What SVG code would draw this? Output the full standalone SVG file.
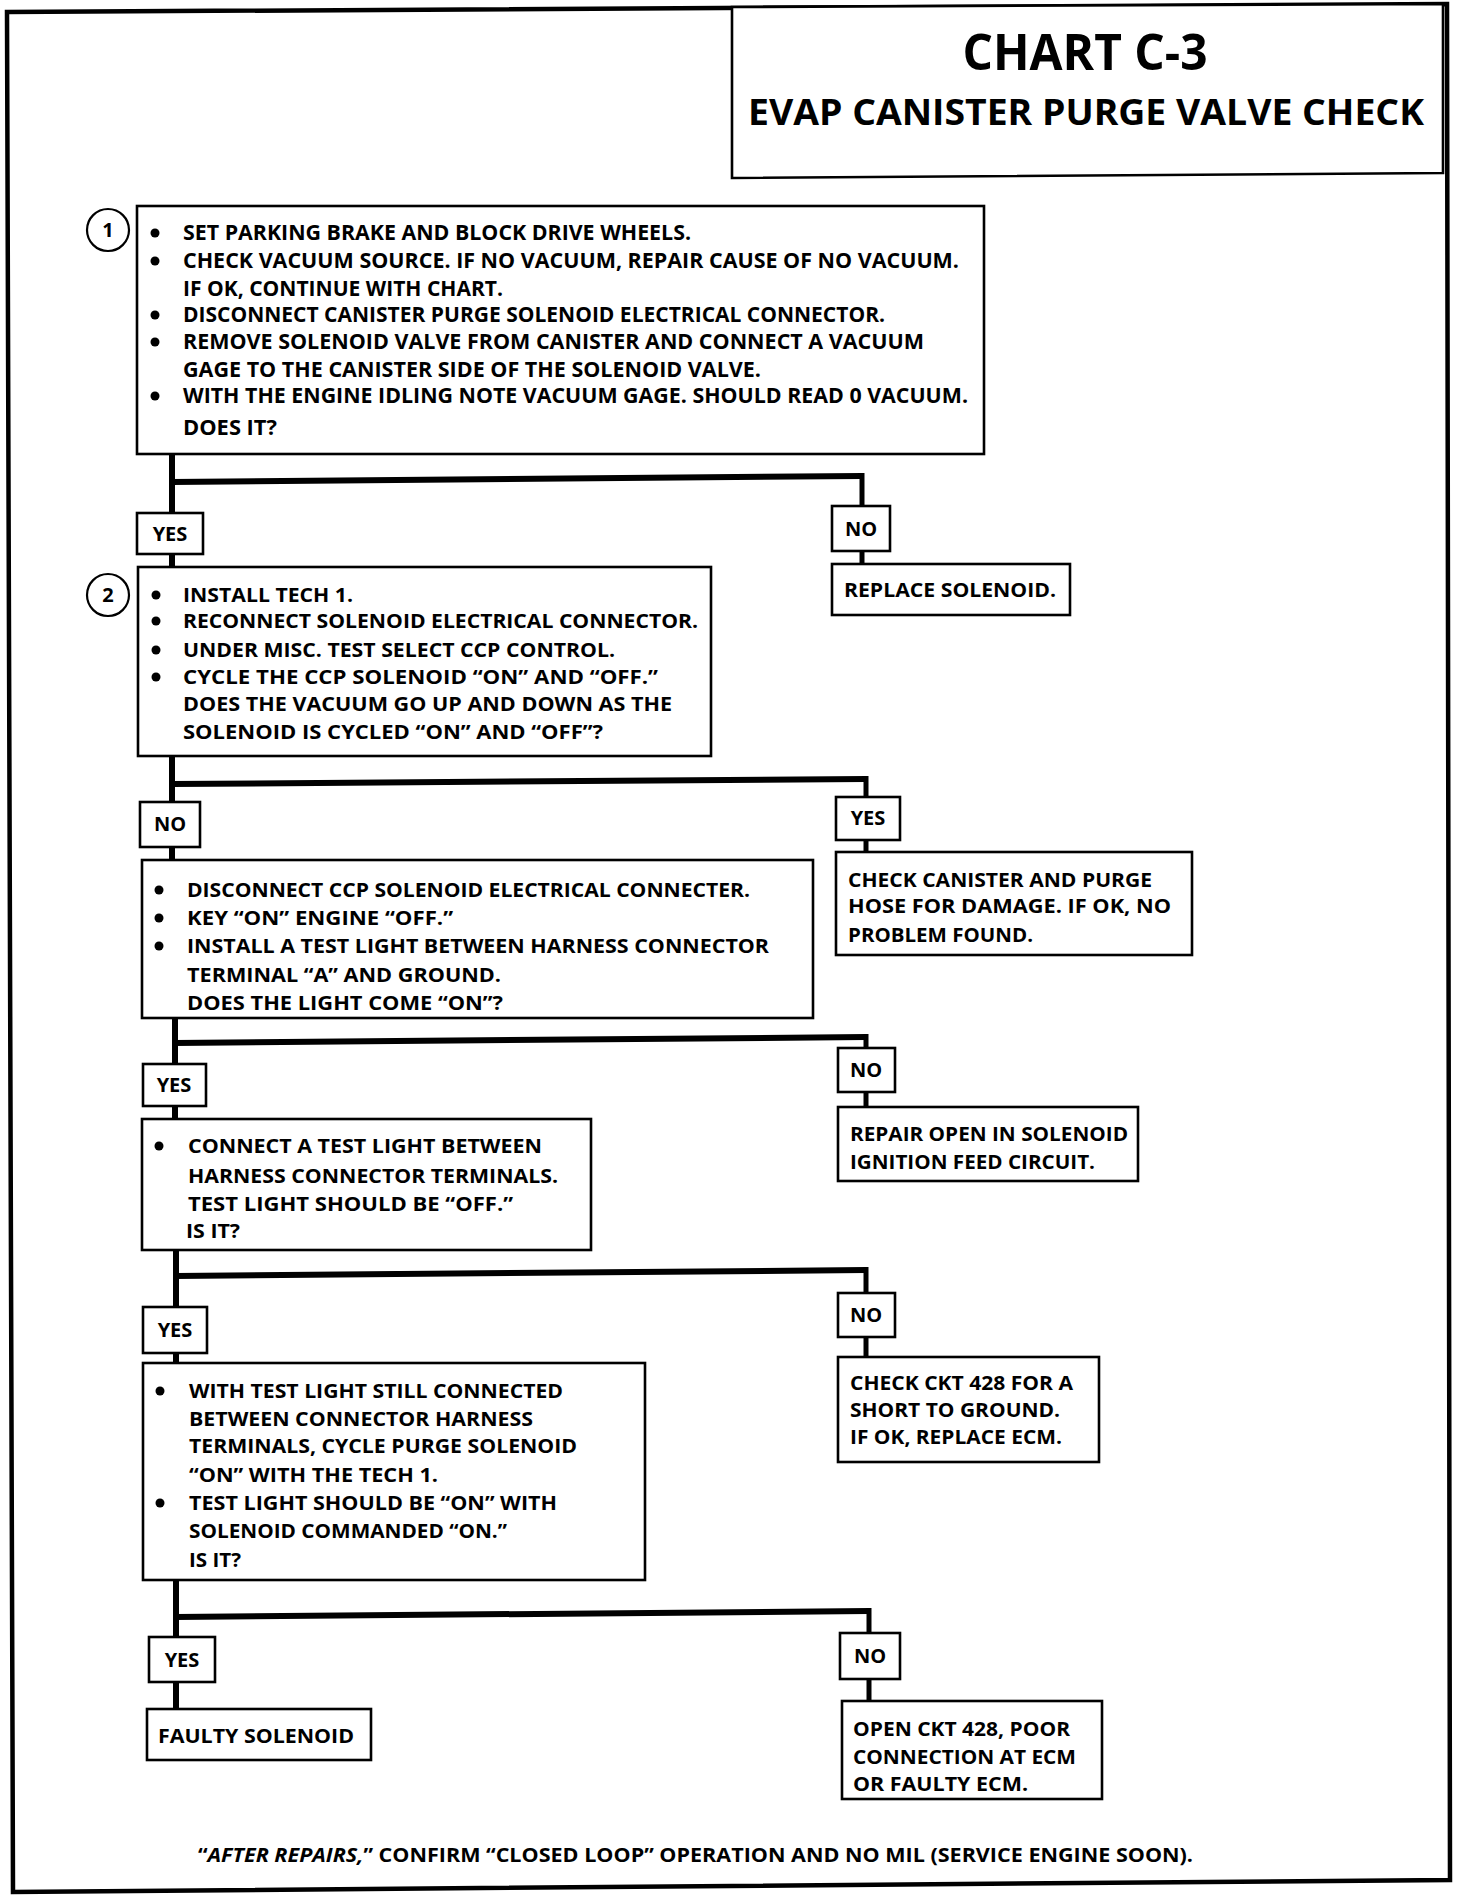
<svg xmlns="http://www.w3.org/2000/svg" width="1472" height="1898" viewBox="0 0 1472 1898">
<style>
.bg{fill:#fff}
.frame{fill:none;stroke:#000;stroke-width:4.5}
.box{fill:#fff;stroke:#000;stroke-width:2.6}
.t{font-family:"Open Sans","Liberation Sans",sans-serif;font-weight:700;font-size:20px;fill:#000}
.t1{font-size:21px}
.lbl{text-anchor:middle}
.title{font-family:"Open Sans","Liberation Sans",sans-serif;font-weight:700;fill:#000;text-anchor:middle}
.bul{fill:#000}
.circ{fill:#fff;stroke:#000;stroke-width:2.2}
.conn{fill:none;stroke:#000;stroke-width:6;stroke-linejoin:miter}
.connr{fill:none;stroke:#000;stroke-width:5}
</style>
<rect class="bg" x="0" y="0" width="1472" height="1898"/>
<polygon class="frame" points="7,12 1447,4 1450,1880 13,1892"/>

<g id="title">
<polygon class="box" points="732,7 1443,4 1443,173 732,178"/>
<text class="title" x="1085" y="70" font-size="50" textLength="245" lengthAdjust="spacingAndGlyphs">CHART C-3</text>
<text class="title" x="1086" y="125" font-size="36" textLength="676" lengthAdjust="spacingAndGlyphs">EVAP CANISTER PURGE VALVE CHECK</text>
</g>

<g id="connectors">
<path class="conn" d="M172,454 V513"/>
<path class="conn" d="M172,482 L862,476"/>
<path class="connr" d="M862,473 V506"/>
<path class="conn" d="M172,554 V567"/>
<path class="connr" d="M862,551 V564"/>

<path class="conn" d="M172,756 V802"/>
<path class="conn" d="M172,784 L866,779"/>
<path class="connr" d="M866,776 V797"/>
<path class="conn" d="M172,847 V860"/>
<path class="connr" d="M866,840 V852"/>

<path class="conn" d="M175,1018 V1064"/>
<path class="conn" d="M175,1043 L866,1037"/>
<path class="connr" d="M866,1034 V1048"/>
<path class="conn" d="M175,1106 V1119"/>
<path class="connr" d="M866,1092 V1107"/>

<path class="conn" d="M176,1250 V1307"/>
<path class="conn" d="M176,1276 L866,1270"/>
<path class="connr" d="M866,1267 V1293"/>
<path class="conn" d="M176,1353 V1363"/>
<path class="connr" d="M866,1337 V1357"/>

<path class="conn" d="M176,1580 V1637"/>
<path class="conn" d="M176,1617 L869,1611"/>
<path class="connr" d="M869,1608 V1633"/>
<path class="conn" d="M176,1682 V1709"/>
<path class="connr" d="M869,1679 V1701"/>
</g>

<g id="step1">
<circle class="circ" cx="108" cy="230" r="21"/>
<text class="t lbl" x="108" y="237">1</text>
<rect class="box" x="137" y="206" width="847" height="248"/>
<circle class="bul" cx="155" cy="233" r="4.5"/>
<circle class="bul" cx="155" cy="261" r="4.5"/>
<circle class="bul" cx="155" cy="315" r="4.5"/>
<circle class="bul" cx="155" cy="342" r="4.5"/>
<circle class="bul" cx="155" cy="396" r="4.5"/>
<text class="t t1" x="183" y="240" textLength="508" lengthAdjust="spacingAndGlyphs">SET PARKING BRAKE AND BLOCK DRIVE WHEELS.</text>
<text class="t t1" x="183" y="268" textLength="776" lengthAdjust="spacingAndGlyphs">CHECK VACUUM SOURCE.  IF NO VACUUM, REPAIR CAUSE OF NO VACUUM.</text>
<text class="t t1" x="183" y="296" textLength="320" lengthAdjust="spacingAndGlyphs">IF OK, CONTINUE WITH CHART.</text>
<text class="t t1" x="183" y="322" textLength="702" lengthAdjust="spacingAndGlyphs">DISCONNECT CANISTER PURGE SOLENOID ELECTRICAL CONNECTOR.</text>
<text class="t t1" x="183" y="349" textLength="741" lengthAdjust="spacingAndGlyphs">REMOVE SOLENOID VALVE FROM CANISTER  AND CONNECT A VACUUM</text>
<text class="t t1" x="183" y="377" textLength="578" lengthAdjust="spacingAndGlyphs">GAGE TO THE CANISTER SIDE OF THE SOLENOID VALVE.</text>
<text class="t t1" x="183" y="403" textLength="785" lengthAdjust="spacingAndGlyphs">WITH THE ENGINE IDLING NOTE VACUUM GAGE.  SHOULD READ 0 VACUUM.</text>
<text class="t t1" x="183" y="435" textLength="94" lengthAdjust="spacingAndGlyphs">DOES IT?</text>
</g>

<g id="yes1">
<rect class="box" x="137" y="513" width="66" height="41"/>
<text class="t lbl" x="170" y="541">YES</text>
</g>
<g id="no1">
<rect class="box" x="832" y="506" width="58" height="45"/>
<text class="t lbl" x="861" y="536">NO</text>
</g>
<g id="replace-solenoid">
<rect class="box" x="832" y="564" width="238" height="51"/>
<text class="t" x="844" y="597" textLength="212" lengthAdjust="spacingAndGlyphs">REPLACE SOLENOID.</text>
</g>

<g id="step2">
<circle class="circ" cx="108" cy="595" r="21"/>
<text class="t lbl" x="108" y="602">2</text>
<rect class="box" x="138" y="567" width="573" height="189"/>
<circle class="bul" cx="156" cy="595" r="4.5"/>
<circle class="bul" cx="156" cy="621" r="4.5"/>
<circle class="bul" cx="156" cy="650" r="4.5"/>
<circle class="bul" cx="156" cy="677" r="4.5"/>
<text class="t" x="183" y="602" textLength="170" lengthAdjust="spacingAndGlyphs">INSTALL TECH 1.</text>
<text class="t" x="183" y="628" textLength="515" lengthAdjust="spacingAndGlyphs">RECONNECT SOLENOID ELECTRICAL CONNECTOR.</text>
<text class="t" x="183" y="657" textLength="432" lengthAdjust="spacingAndGlyphs">UNDER MISC. TEST SELECT CCP CONTROL.</text>
<text class="t" x="183" y="684" textLength="475" lengthAdjust="spacingAndGlyphs">CYCLE THE CCP SOLENOID “ON” AND “OFF.”</text>
<text class="t" x="183" y="711" textLength="489" lengthAdjust="spacingAndGlyphs">DOES THE VACUUM GO UP AND DOWN AS THE</text>
<text class="t" x="183" y="739" textLength="420" lengthAdjust="spacingAndGlyphs">SOLENOID IS CYCLED “ON” AND “OFF”?</text>
</g>

<g id="no2">
<rect class="box" x="140" y="802" width="60" height="45"/>
<text class="t lbl" x="170" y="831">NO</text>
</g>
<g id="yes2">
<rect class="box" x="836" y="797" width="64" height="43"/>
<text class="t lbl" x="868" y="825">YES</text>
</g>
<g id="check-canister">
<rect class="box" x="836" y="852" width="356" height="103"/>
<text class="t" x="848" y="887" textLength="304" lengthAdjust="spacingAndGlyphs">CHECK CANISTER AND PURGE</text>
<text class="t" x="848" y="913" textLength="323" lengthAdjust="spacingAndGlyphs">HOSE FOR DAMAGE.  IF OK, NO</text>
<text class="t" x="848" y="942" textLength="185" lengthAdjust="spacingAndGlyphs">PROBLEM FOUND.</text>
</g>

<g id="step3">
<rect class="box" x="142" y="860" width="671" height="158"/>
<circle class="bul" cx="159" cy="890" r="4.5"/>
<circle class="bul" cx="159" cy="918" r="4.5"/>
<circle class="bul" cx="159" cy="946" r="4.5"/>
<text class="t" x="187" y="897" textLength="563" lengthAdjust="spacingAndGlyphs">DISCONNECT CCP SOLENOID ELECTRICAL CONNECTER.</text>
<text class="t" x="187" y="925" textLength="266" lengthAdjust="spacingAndGlyphs">KEY “ON” ENGINE “OFF.”</text>
<text class="t" x="187" y="953" textLength="582" lengthAdjust="spacingAndGlyphs">INSTALL A TEST LIGHT BETWEEN HARNESS CONNECTOR</text>
<text class="t" x="187" y="982" textLength="314" lengthAdjust="spacingAndGlyphs">TERMINAL “A” AND GROUND.</text>
<text class="t" x="187" y="1010" textLength="316" lengthAdjust="spacingAndGlyphs">DOES THE LIGHT COME “ON”?</text>
</g>

<g id="yes3">
<rect class="box" x="143" y="1064" width="63" height="42"/>
<text class="t lbl" x="174" y="1092">YES</text>
</g>
<g id="no3">
<rect class="box" x="838" y="1048" width="57" height="44"/>
<text class="t lbl" x="866" y="1077">NO</text>
</g>
<g id="repair-open">
<rect class="box" x="838" y="1107" width="300" height="74"/>
<text class="t" x="850" y="1141" textLength="278" lengthAdjust="spacingAndGlyphs">REPAIR OPEN IN SOLENOID</text>
<text class="t" x="850" y="1169" textLength="245" lengthAdjust="spacingAndGlyphs">IGNITION FEED CIRCUIT.</text>
</g>

<g id="step4">
<rect class="box" x="142" y="1119" width="449" height="131"/>
<circle class="bul" cx="159" cy="1146" r="4.5"/>
<text class="t" x="188" y="1153" textLength="354" lengthAdjust="spacingAndGlyphs">CONNECT A TEST LIGHT BETWEEN</text>
<text class="t" x="188" y="1183" textLength="370" lengthAdjust="spacingAndGlyphs">HARNESS CONNECTOR TERMINALS.</text>
<text class="t" x="188" y="1211" textLength="325" lengthAdjust="spacingAndGlyphs">TEST LIGHT SHOULD BE “OFF.”</text>
<text class="t" x="186" y="1238" textLength="54" lengthAdjust="spacingAndGlyphs">IS IT?</text>
</g>

<g id="yes4">
<rect class="box" x="143" y="1307" width="64" height="46"/>
<text class="t lbl" x="175" y="1337">YES</text>
</g>
<g id="no4">
<rect class="box" x="838" y="1293" width="57" height="44"/>
<text class="t lbl" x="866" y="1322">NO</text>
</g>
<g id="check-ckt-428">
<rect class="box" x="838" y="1357" width="261" height="105"/>
<text class="t" x="850" y="1390" textLength="223" lengthAdjust="spacingAndGlyphs">CHECK CKT 428 FOR A</text>
<text class="t" x="850" y="1417" textLength="210" lengthAdjust="spacingAndGlyphs">SHORT TO GROUND.</text>
<text class="t" x="850" y="1444" textLength="212" lengthAdjust="spacingAndGlyphs">IF OK, REPLACE ECM.</text>
</g>

<g id="step5">
<rect class="box" x="143" y="1363" width="502" height="217"/>
<circle class="bul" cx="160" cy="1391" r="4.5"/>
<circle class="bul" cx="160" cy="1503" r="4.5"/>
<text class="t" x="189" y="1398" textLength="374" lengthAdjust="spacingAndGlyphs">WITH TEST LIGHT STILL CONNECTED</text>
<text class="t" x="189" y="1426" textLength="344" lengthAdjust="spacingAndGlyphs">BETWEEN CONNECTOR HARNESS</text>
<text class="t" x="189" y="1453" textLength="388" lengthAdjust="spacingAndGlyphs">TERMINALS, CYCLE PURGE SOLENOID</text>
<text class="t" x="189" y="1482" textLength="249" lengthAdjust="spacingAndGlyphs">“ON” WITH THE TECH 1.</text>
<text class="t" x="189" y="1510" textLength="368" lengthAdjust="spacingAndGlyphs">TEST LIGHT SHOULD BE “ON” WITH</text>
<text class="t" x="189" y="1538" textLength="318" lengthAdjust="spacingAndGlyphs">SOLENOID COMMANDED “ON.”</text>
<text class="t" x="189" y="1567" textLength="52" lengthAdjust="spacingAndGlyphs">IS IT?</text>
</g>

<g id="yes5">
<rect class="box" x="149" y="1637" width="66" height="45"/>
<text class="t lbl" x="182" y="1667">YES</text>
</g>
<g id="no5">
<rect class="box" x="840" y="1633" width="60" height="46"/>
<text class="t lbl" x="870" y="1663">NO</text>
</g>
<g id="faulty-solenoid">
<rect class="box" x="147" y="1709" width="224" height="51"/>
<text class="t" x="158" y="1743" textLength="196" lengthAdjust="spacingAndGlyphs">FAULTY SOLENOID</text>
</g>
<g id="open-ckt-428">
<rect class="box" x="842" y="1701" width="260" height="98"/>
<text class="t" x="853" y="1736" textLength="217" lengthAdjust="spacingAndGlyphs">OPEN CKT 428, POOR</text>
<text class="t" x="853" y="1764" textLength="223" lengthAdjust="spacingAndGlyphs">CONNECTION AT ECM</text>
<text class="t" x="853" y="1791" textLength="175" lengthAdjust="spacingAndGlyphs">OR FAULTY ECM.</text>
</g>

<g id="footer">
<text class="t" x="198" y="1862" textLength="995" lengthAdjust="spacingAndGlyphs">“<tspan font-style="italic">AFTER REPAIRS,</tspan>” CONFIRM “CLOSED LOOP” OPERATION AND NO MIL (SERVICE ENGINE SOON).</text>
</g>
</svg>
